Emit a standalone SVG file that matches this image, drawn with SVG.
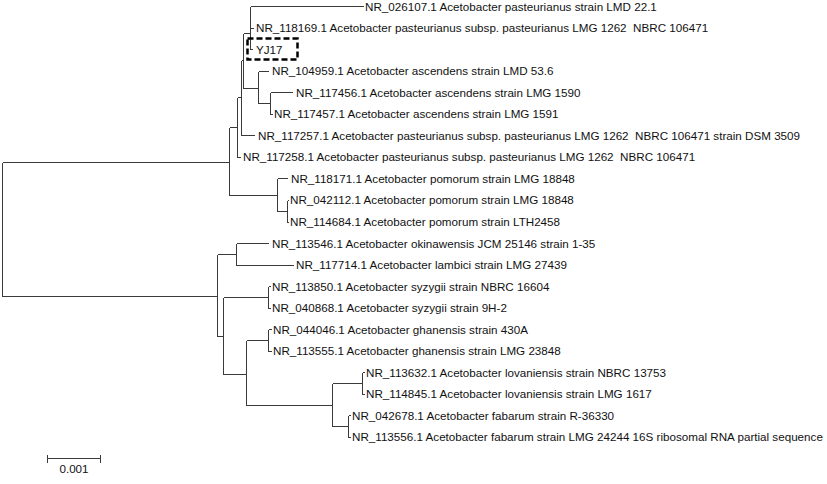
<svg xmlns="http://www.w3.org/2000/svg" width="827" height="484" viewBox="0 0 827 484">
<style>
  .br { fill: none; stroke: #3a3a3a; stroke-width: 1; shape-rendering: crispEdges; }
  .lb { font-family: "Liberation Sans", Arial, sans-serif; font-size: 11.65px; fill: #111; }
  .box { fill: none; stroke: #000; stroke-width: 2.5; stroke-dasharray: 6 3; }
</style>
<rect width="827" height="484" fill="#fff"/>
<g id="connectors">
  <!-- root -->
  <path class="br" d="M2.5 162.5 V296.5 M2.5 162.5 H229.5 M2.5 296.5 H217.5"/>
  <!-- top clade -->
  <path class="br" d="M229.5 127.5 V195.5 M229.5 127.5 H237.5 M229.5 195.5 H277.5"/>
  <path class="br" d="M237.5 97.5 V157.5 M237.5 97.5 H241.5 M237.5 157.5 H240.5"/>
  <path class="br" d="M241.5 60.5 V135.5 M241.5 60.5 H243.5 M241.5 135.5 H254.5"/>
  <path class="br" d="M243.5 33.5 V88.5 M243.5 33.5 H250.5 M243.5 88.5 H258.5"/>
  <path class="br" d="M250.5 6.5 V49.5 M250.5 6.5 H363.5 M250.5 28.5 H253.5 M250.5 49.5 H252.5"/>
  <path class="br" d="M258.5 71.5 V103.5 M258.5 71.5 H268.5 M258.5 103.5 H270.5"/>
  <path class="br" d="M270.5 92.5 V114.5 M270.5 92.5 H292.5 M270.5 114.5 H272.5"/>
  <path class="br" d="M277.5 178.5 V211.5 M277.5 178.5 H287.5 M277.5 211.5 H287.5"/>
  <path class="br" d="M287.5 200.5 V222.5 M287.5 200.5 H288.5 M287.5 222.5 H288.5"/>
  <!-- bottom clade -->
  <path class="br" d="M217.5 254.5 V336.5 M217.5 254.5 H236.5 M217.5 336.5 H223.5"/>
  <path class="br" d="M236.5 243.5 V265.5 M236.5 243.5 H268.5 M236.5 265.5 H293.5"/>
  <path class="br" d="M223.5 297.5 V374.5 M223.5 297.5 H268.5 M223.5 374.5 H246.5"/>
  <path class="br" d="M268.5 286.5 V308.5 M268.5 286.5 H270.5 M268.5 308.5 H270.5"/>
  <path class="br" d="M246.5 340.5 V405.5 M246.5 340.5 H268.5 M246.5 405.5 H332.5"/>
  <path class="br" d="M268.5 329.5 V351.5 M268.5 329.5 H271.5 M268.5 351.5 H271.5"/>
  <path class="br" d="M332.5 383.5 V426.5 M332.5 383.5 H362.5 M332.5 426.5 H348.5"/>
  <path class="br" d="M362.5 372.5 V394.5 M362.5 372.5 H364.5 M362.5 394.5 H364.5"/>
  <path class="br" d="M348.5 415.5 V437.5 M348.5 415.5 H350.5 M348.5 437.5 H350.5"/>
</g>
<g id="leaf-NR_026107"><text class="lb" x="365" y="10.5">NR_026107.1 Acetobacter pasteurianus strain LMD 22.1</text></g>
<g id="leaf-NR_118169"><text class="lb" x="256" y="32" xml:space="preserve">NR_118169.1 Acetobacter pasteurianus subsp. pasteurianus LMG 1262  NBRC 106471</text></g>
<g id="leaf-YJ17"><rect class="box" x="247.5" y="38.5" width="50" height="21"/><text class="lb" x="256" y="53.5">YJ17</text></g>
<g id="leaf-NR_104959"><text class="lb" x="272" y="75">NR_104959.1 Acetobacter ascendens strain LMD 53.6</text></g>
<g id="leaf-NR_117456"><text class="lb" x="296" y="96.5">NR_117456.1 Acetobacter ascendens strain LMG 1590</text></g>
<g id="leaf-NR_117457"><text class="lb" x="274" y="118">NR_117457.1 Acetobacter ascendens strain LMG 1591</text></g>
<g id="leaf-NR_117257"><text class="lb" x="258" y="139.5" xml:space="preserve">NR_117257.1 Acetobacter pasteurianus subsp. pasteurianus LMG 1262  NBRC 106471 strain DSM 3509</text></g>
<g id="leaf-NR_117258"><text class="lb" x="243" y="161" xml:space="preserve">NR_117258.1 Acetobacter pasteurianus subsp. pasteurianus LMG 1262  NBRC 106471</text></g>
<g id="leaf-NR_118171"><text class="lb" x="291" y="182.5">NR_118171.1 Acetobacter pomorum strain LMG 18848</text></g>
<g id="leaf-NR_042112"><text class="lb" x="290" y="204">NR_042112.1 Acetobacter pomorum strain LMG 18848</text></g>
<g id="leaf-NR_114684"><text class="lb" x="290" y="226">NR_114684.1 Acetobacter pomorum strain LTH2458</text></g>
<g id="leaf-NR_113546"><text class="lb" x="272" y="247.5">NR_113546.1 Acetobacter okinawensis JCM 25146 strain 1-35</text></g>
<g id="leaf-NR_117714"><text class="lb" x="296" y="269">NR_117714.1 Acetobacter lambici strain LMG 27439</text></g>
<g id="leaf-NR_113850"><text class="lb" x="272" y="290.5">NR_113850.1 Acetobacter syzygii strain NBRC 16604</text></g>
<g id="leaf-NR_040868"><text class="lb" x="272" y="312">NR_040868.1 Acetobacter syzygii strain 9H-2</text></g>
<g id="leaf-NR_044046"><text class="lb" x="273" y="333.5">NR_044046.1 Acetobacter ghanensis strain 430A</text></g>
<g id="leaf-NR_113555"><text class="lb" x="273" y="355">NR_113555.1 Acetobacter ghanensis strain LMG 23848</text></g>
<g id="leaf-NR_113632"><text class="lb" x="366" y="376.5">NR_113632.1 Acetobacter lovaniensis strain NBRC 13753</text></g>
<g id="leaf-NR_114845"><text class="lb" x="366" y="398">NR_114845.1 Acetobacter lovaniensis strain LMG 1617</text></g>
<g id="leaf-NR_042678"><text class="lb" x="352" y="419.5">NR_042678.1 Acetobacter fabarum strain R-36330</text></g>
<g id="leaf-NR_113556"><text class="lb" x="352" y="441">NR_113556.1 Acetobacter fabarum strain LMG 24244 16S ribosomal RNA partial sequence</text></g>
<g id="scale-bar">
  <path class="br" d="M47.5 458.5 H100.5 M47.5 454.5 V462.5 M100.5 454.5 V462.5"/>
  <text class="lb" x="74" y="473" text-anchor="middle" font-size="11">0.001</text>
</g>
</svg>
